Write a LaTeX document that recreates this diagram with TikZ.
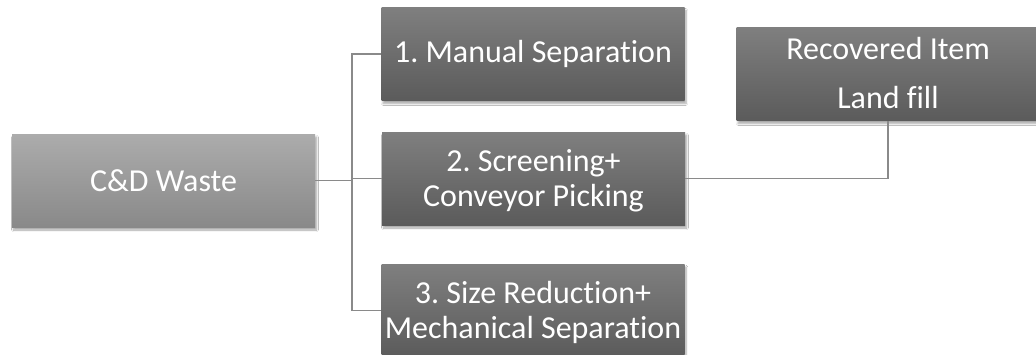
\documentclass[tikz,border=0pt]{standalone}
\usepackage{fontspec}
\setmainfont{Carlito}[Ligatures=NoCommon]
\usetikzlibrary{shadows.blur}
\frenchspacing
\definecolor{lighttop}{HTML}{ACACAC}
\definecolor{lightbot}{HTML}{898989}
\definecolor{darktop}{HTML}{7F7F7F}
\definecolor{darkbot}{HTML}{5B5B5B}
\definecolor{linkgray}{HTML}{8A8A8A}
\newcommand{\firststrut}{\rule{0pt}{26pt}}
\tikzset{
  boxbase/.style={minimum width=303pt, minimum height=93pt, inner sep=0pt,
    text=white, align=center, font=\fontsize{32}{35}\selectfont\frenchspacing,
    blur shadow={shadow xshift=1.5pt, shadow yshift=-3pt, shadow blur steps=6, shadow opacity=35}},
  lightbox/.style={boxbase, top color=lighttop, bottom color=lightbot},
  darkbox/.style={boxbase, top color=darktop, bottom color=darkbot},
  link/.style={draw=linkgray, line width=1.3pt}
}
\begin{document}
\begin{tikzpicture}[x=1pt,y=-1pt]
\clip (0,0) rectangle (1036,354);
\fill[white] (0,0) rectangle (1036,354);
\node[lightbox] (waste) at (163.5,180.5) {C\&D Waste};
\node[darkbox] (m1) at (533,54) {1. Manual Separation};
\node[darkbox] (m2) at (533.5,178.5) {\firststrut 2. Screening+\\Conveyor Picking};
\node[darkbox] (m3) at (533,310.5) {\firststrut 3. Size Reduction+\\Mechanical Separation};
\node[darkbox] (rec) at (888,74) {Recovered Item\\[14pt]Land fill\rule[-2pt]{0pt}{1pt}};
\coordinate (j) at (352,180.5);
\draw[link] (waste.east) -- (j);
\draw[link] (j) |- (m1.west);
\draw[link] (j) |- (m2.west);
\draw[link] (j) |- (m3.west);
\draw[link] (m2.east) -| (rec.south);
\end{tikzpicture}
\end{document}
